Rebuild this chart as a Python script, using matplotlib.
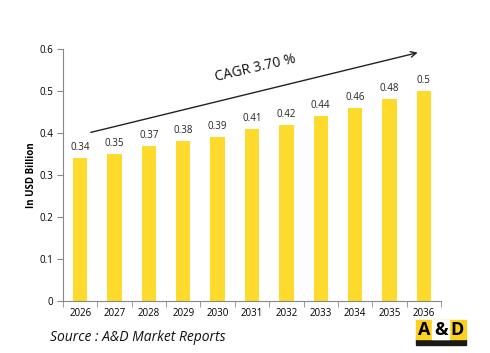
import matplotlib.pyplot as plt
import matplotlib.patches as mpatches

years = ['2026', '2027', '2028', '2029', '2030', '2031', '2032', '2033', '2034', '2035', '2036']
values = [0.34, 0.35, 0.37, 0.38, 0.39, 0.41, 0.42, 0.44, 0.46, 0.48, 0.5]
labels = ['0.34', '0.35', '0.37', '0.38', '0.39', '0.41', '0.42', '0.44', '0.46', '0.48', '0.5']

plt.rcParams['font.family'] = ['Open Sans', 'DejaVu Sans']

fig = plt.figure(figsize=(4.9, 3.53), dpi=100)
ax = fig.add_axes([0.1286, 0.1473, 0.7714, 0.7137])

x = list(range(len(years)))
ax.bar(x, values, width=0.42, color='#FDDA2C')
for i, v in enumerate(values):
    ax.text(i, v + 0.012, labels[i], ha='center', va='bottom', fontsize=7, color='#222222')

ax.set_xlim(-0.5, len(years) - 0.5)
ax.set_ylim(0, 0.6)
ax.set_yticks([0, 0.1, 0.2, 0.3, 0.4, 0.5, 0.6])
ax.set_yticklabels(['0', '0.1', '0.2', '0.3', '0.4', '0.5', '0.6'])
ax.set_xticks(x)
ax.set_xticklabels(years)
ax.set_xticks([i - 0.5 for i in range(len(years) + 1)], minor=True)
ax.tick_params(axis='x', which='major', length=0, pad=5, labelsize=7)
ax.tick_params(axis='x', which='minor', length=4, color='#888888')
ax.tick_params(axis='y', length=4, color='#888888', labelsize=7, pad=3)
for s in ['top', 'right']:
    ax.spines[s].set_visible(False)
for s in ['left', 'bottom']:
    ax.spines[s].set_color('#888888')
    ax.spines[s].set_linewidth(0.8)

ax.set_ylabel('In USD Billion', fontsize=7, fontweight='bold', labelpad=2)

# CAGR arrow
ax.annotate('', xy=(9.9, 0.593), xytext=(0.23, 0.40),
            arrowprops=dict(arrowstyle='->', color='#222222', lw=1))
ax.text(5.1, 0.553, 'CAGR 3.70 %', rotation=13, fontsize=10, ha='center', va='center', color='#111111')

fig.text(0.102, 0.035, 'Source : A&D Market Reports', fontsize=10, style='italic', color='#111111')

# logo
fig.patches.append(mpatches.Rectangle((0.849, 0.023), 0.101, 0.017, transform=fig.transFigure, color='#1a1a1a'))
fig.patches.append(mpatches.Rectangle((0.849, 0.040), 0.101, 0.053, transform=fig.transFigure, color='#FDD21F'))
fig.patches.append(mpatches.Rectangle((0.882, 0.040), 0.035, 0.053, transform=fig.transFigure, color='white'))
fig.text(0.866, 0.066, 'A', fontsize=13, fontweight='bold', ha='center', va='center', color='black')
fig.text(0.8995, 0.066, '&', fontsize=13, fontweight='bold', ha='center', va='center', color='black')
fig.text(0.933, 0.066, 'D', fontsize=13, fontweight='bold', ha='center', va='center', color='black')

fig.savefig('out.png', dpi=100)
